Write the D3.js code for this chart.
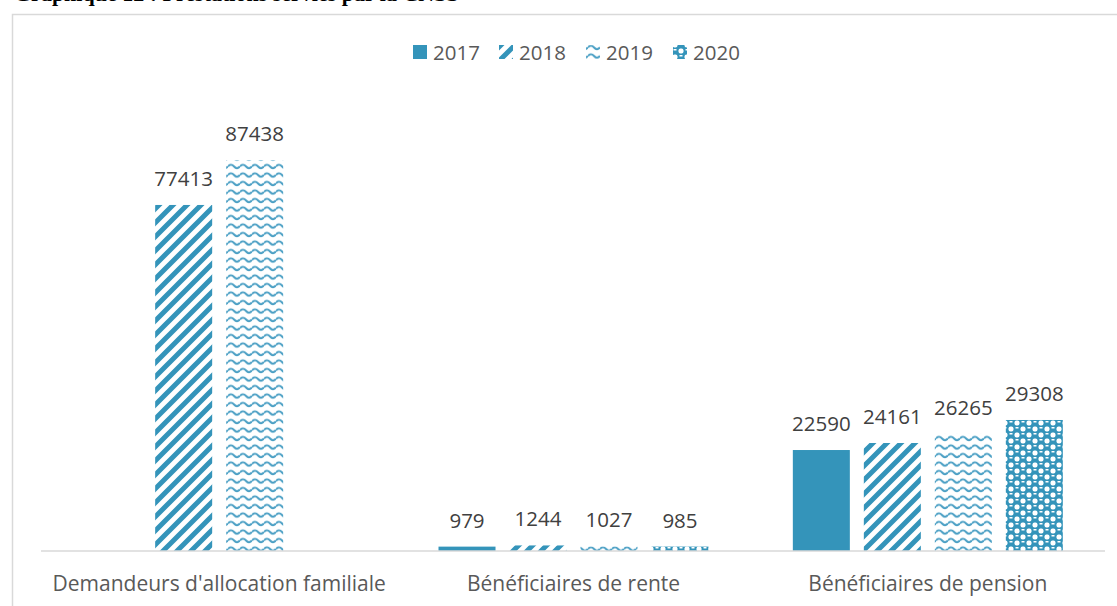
<!DOCTYPE html>
<html lang="fr">
<head>
    <meta charset="UTF-8">
    <title>Prestations de la CNSS</title>
    <script src="https://cdnjs.cloudflare.com/ajax/libs/d3/7.8.5/d3.min.js"></script>
    <style>
        body {
            margin: 0;
            padding: 0;
            background-color: #fff;
            overflow: hidden;
        }
        .value-label {
            font: 20.5px "Open Sans", sans-serif;
            fill: #404040;
        }
        .cat-label {
            font: 21px "Open Sans", sans-serif;
            fill: #595959;
        }
        .legend text {
            font: 20.5px "Open Sans", sans-serif;
            fill: #595959;
        }
    </style>
</head>
<body>
    <div id="chart"></div>
    <script>
        const categories = ["Demandeurs d'allocation familiale", "Bénéficiaires de rente", "Bénéficiaires de pension"];
        const years = ["2017", "2018", "2019", "2020"];
        const values2017 = [null, 979, 22590];
        const values2018 = [77413, 1244, 24161];
        const values2019 = [87438, 1027, 26265];
        const values2020 = [null, 985, 29308];

        const seriesValues = [values2017, values2018, values2019, values2020];
        const blue = "#3494ba";

        const width = 1117, height = 606;
        const plot = { left: 42, right: 1105, top: 104, bottom: 551 };

        const svg = d3.select("#chart").append("svg")
            .attr("width", width)
            .attr("height", height);

        // fill patterns (roughly Excel's pattern fills)
        const defs = svg.append("defs");

        const stripes = defs.append("pattern")
            .attr("id", "p2018")
            .attr("patternUnits", "userSpaceOnUse")
            .attr("width", 14).attr("height", 14);
        stripes.append("path")
            .attr("d", "M-4,4 L4,-4 M0,14 L14,0 M10,18 L18,10")
            .attr("stroke", blue)
            .attr("stroke-width", 5);

        const waves = defs.append("pattern")
            .attr("id", "p2019")
            .attr("patternUnits", "userSpaceOnUse")
            .attr("width", 12).attr("height", 8.5);
        waves.append("path")
            .attr("d", "M0,5 Q3,1.5 6,5 Q9,8.5 12,5")
            .attr("fill", "none")
            .attr("stroke", "#4a9fc4")
            .attr("stroke-width", 2);

        const checks = defs.append("pattern")
            .attr("id", "p2020")
            .attr("patternUnits", "userSpaceOnUse")
            .attr("width", 12).attr("height", 12);
        checks.append("rect")
            .attr("width", 12).attr("height", 12)
            .attr("fill", blue);
        [[6, 0], [0, 6]].forEach(([cx, cy]) => {
            checks.append("rect")
                .attr("x", cx + 0.5).attr("y", cy + 0.5)
                .attr("width", 5).attr("height", 5)
                .attr("rx", 2)
                .attr("fill", "#fff");
        });
        [[0, 0], [6, 6]].forEach(([cx, cy]) => {
            checks.append("rect")
                .attr("x", cx + 1.5).attr("y", cy + 1)
                .attr("width", 3).attr("height", 1.5)
                .attr("fill", "#fff");
        });

        const fills = [blue, "url(#p2018)", "url(#p2019)", "url(#p2020)"];

        // title, mostly cut off at the top of the picture
        svg.append("text")
            .attr("x", 14)
            .attr("y", 1)
            .style("font", "bold 22px 'Liberation Serif', serif")
            .attr("fill", "#000")
            .text("Graphique 12 : Prestations servies par la CNSS");

        // chart frame
        svg.append("path")
            .attr("d", `M12.5,${height + 2} V14.5 H${width + 2}`)
            .attr("fill", "none")
            .attr("stroke", "#d9d9d9")
            .attr("stroke-width", 1.5);

        const x0 = d3.scaleBand()
            .domain(categories)
            .range([plot.left, plot.right]);

        const x1 = d3.scaleBand()
            .domain(years)
            .range([0, x0.bandwidth()])
            .paddingInner(0.197)
            .paddingOuter(0.594);

        const y = d3.scaleLinear()
            .domain([0, 100000])
            .range([plot.bottom, plot.top]);

        years.forEach((yr, si) => {
            const pts = categories.map((c, ci) => ({ cat: c, value: seriesValues[si][ci] }))
                .filter(p => p.value !== null);

            const g = svg.append("g")
                .attr("class", "series");

            g.selectAll("rect")
                .data(pts)
                .enter().append("rect")
                .attr("x", d => x0(d.cat) + x1(yr))
                .attr("y", d => y(d.value))
                .attr("width", x1.bandwidth())
                .attr("height", d => y(0) - y(d.value))
                .attr("fill", fills[si]);

            g.selectAll("text")
                .data(pts)
                .enter().append("text")
                .attr("class", "value-label")
                .attr("x", d => x0(d.cat) + x1(yr) + x1.bandwidth() / 2)
                .attr("y", d => y(d.value) - 19)
                .attr("text-anchor", "middle")
                .text(d => d.value);
        });

        // category axis
        const xAxis = svg.append("g")
            .attr("transform", `translate(0,${plot.bottom})`)
            .call(d3.axisBottom(x0).tickSize(0).tickPadding(25));
        xAxis.select(".domain").remove();
        xAxis.append("line")
            .attr("x1", plot.left - 1)
            .attr("x2", plot.right)
            .attr("stroke", "#d9d9d9")
            .attr("stroke-width", 1.5);
        xAxis.selectAll("text")
            .attr("class", "cat-label")
            .attr("fill", null);
        xAxis.attr("font-size", null).attr("font-family", null);

        // legend
        const legendX = [413, 499, 586, 673];
        const legend = svg.append("g").attr("class", "legend");
        years.forEach((yr, i) => {
            legend.append("rect")
                .attr("x", legendX[i])
                .attr("y", 45)
                .attr("width", 14)
                .attr("height", 14)
                .attr("fill", fills[i]);
            legend.append("text")
                .attr("x", legendX[i] + 20)
                .attr("y", 60)
                .text(yr);
        });
    </script>
</body>
</html>
